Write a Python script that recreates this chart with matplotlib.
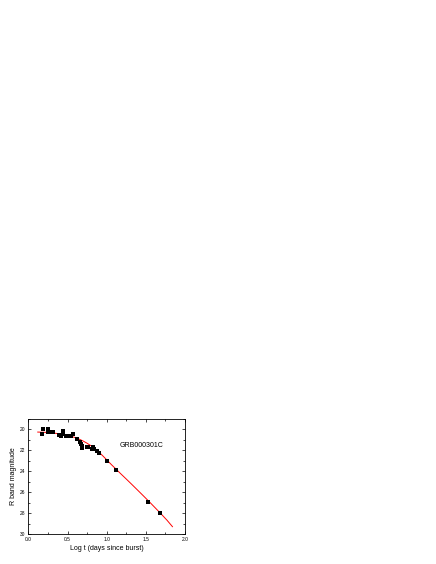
import numpy as np
import matplotlib
matplotlib.use("Agg")
import matplotlib.pyplot as plt
from matplotlib.ticker import MultipleLocator

plt.rcParams['font.family'] = ['Liberation Sans', 'DejaVu Sans']

# observed R band points (log t, magnitude)
log_t = [0.179, 0.192, 0.247, 0.251, 0.260, 0.319, 0.396, 0.422, 0.439, 0.447,
         0.477, 0.494, 0.541, 0.575, 0.626, 0.660, 0.673, 0.681, 0.685, 0.745,
         0.758, 0.813, 0.826, 0.834, 0.873, 0.902, 1.009, 1.119, 1.524, 1.685]
r_mag = [20.43, 19.98, 19.95, 20.21, 20.24, 20.27, 20.53, 20.59, 20.18, 20.40,
         20.59, 20.59, 20.62, 20.46, 20.87, 21.16, 21.42, 21.74, 21.61, 21.71,
         21.64, 21.83, 21.67, 21.90, 22.03, 22.28, 23.01, 23.84, 26.94, 27.96]

# fitted curve
fit_t = [0.12, 0.20, 0.30, 0.40, 0.50, 0.55, 0.60, 0.65, 0.70, 0.75,
         0.80, 0.85, 0.90, 0.95, 1.00, 1.06, 1.12, 1.18, 1.25, 1.32,
         1.40, 1.47, 1.55, 1.62, 1.70, 1.77, 1.84]
fit_mag = [20.25, 20.27, 20.32, 20.42, 20.56, 20.66, 20.78, 20.93, 21.11, 21.32,
           21.56, 21.84, 22.16, 22.52, 22.90, 23.36, 23.80, 24.24, 24.74, 25.25,
           25.84, 26.36, 26.96, 27.50, 28.12, 28.68, 29.30]

fig = plt.figure(figsize=(4.36, 5.64), dpi=100)
ax = fig.add_axes([0.065, 0.0532, 0.3593, 0.2039])

ax.plot(fit_t, fit_mag, color='red', lw=0.7)
ax.plot(log_t, r_mag, 's', color='black', ms=2.3, mew=0)

ax.set_xlim(0.0, 2.0)
ax.set_ylim(30, 19)
ax.xaxis.set_major_locator(MultipleLocator(0.5))
ax.xaxis.set_minor_locator(MultipleLocator(0.25))
ax.yaxis.set_minor_locator(MultipleLocator(1))
ax.set_yticks([20, 22, 24, 26, 28, 30])
ax.xaxis.set_major_formatter(matplotlib.ticker.FormatStrFormatter('%.1f'))

ax.tick_params(which='both', direction='in', top=True, right=True,
               labelsize=3.5, width=0.5, pad=2)
ax.tick_params(which='major', length=2)
ax.tick_params(which='minor', length=1.2)
for s in ax.spines.values():
    s.set_linewidth(0.6)

ax.set_xlabel('Log t (days since burst)', fontsize=5, labelpad=2)
ax.set_ylabel('R band magnitude', fontsize=5, labelpad=2)
ax.text(1.45, 21.5, 'GRB000301C', fontsize=5, ha='center', va='center')

fig.savefig('out.png', dpi=100)
